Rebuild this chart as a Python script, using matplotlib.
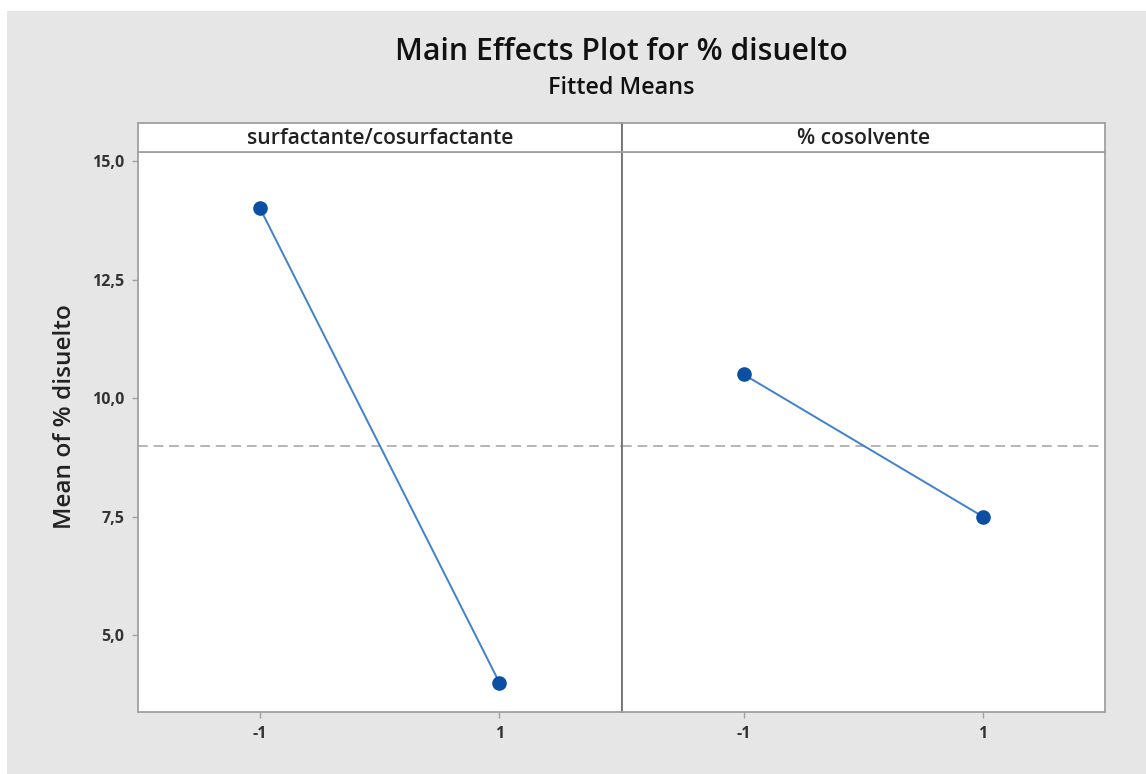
import matplotlib
matplotlib.use("Agg")
import matplotlib.pyplot as plt
from matplotlib.patches import Rectangle
from matplotlib.ticker import FuncFormatter

plt.rcParams['font.family'] = ['Open Sans', 'DejaVu Sans']

factors = ['surfactante/cosurfactante', '% cosolvente']
levels = [-1, 1]
level_labels = ['-1', '1']
means = [[14.0, 4.0], [10.5, 7.5]]
grand_mean = 9.0
yticks = [5.0, 7.5, 10.0, 12.5, 15.0]

W, H = 1146, 774
fig = plt.figure(figsize=(W/100, H/100), dpi=100)
fig.patch.set_facecolor('white')
# grey backdrop (white margin on top/left like the screenshot)
fig.patches.append(Rectangle((7/W, 0), 1, 1-11/H, transform=fig.transFigure,
                             facecolor='#e6e6e6', edgecolor='none', zorder=-10))

left, right = 138/W, 1105/W
bottom, top = 1-712/H, 1-152/H
strip_top = 1-123/H
pw = (right-left)/2
framec = '#a0a0a0'
linec = '#4080cc'
dotc = '#0a4fa3'

ax = []
for i in range(2):
    a = fig.add_axes([left+i*pw, bottom, pw, top-bottom])
    a.set_facecolor('white')
    a.plot(levels, means[i], color=linec, lw=1.4, zorder=2)
    a.plot(levels, means[i], 'o', color=dotc, ms=9.5, zorder=3)
    a.axhline(grand_mean, color='#b4b4b4', lw=1.4, ls=(0, (5, 3)), zorder=1)
    a.set_xlim(-2.02, 2.02)
    a.set_ylim(3.38, 15.19)
    a.set_xticks(levels)
    a.set_xticklabels(level_labels, fontsize=11.5, fontweight='bold', color='#333333')
    a.set_yticks(yticks)
    a.yaxis.set_major_formatter(FuncFormatter(lambda v, p: ('%.1f' % v).replace('.', ',')))
    a.tick_params(colors=framec, labelcolor='#333333', length=4, width=1, labelsize=11.5, pad=6)
    for s in a.spines.values():
        s.set_color(framec)
        s.set_linewidth(1.3)
    if i == 1:
        a.tick_params(axis='y', left=False, labelleft=False)
        a.spines['left'].set_color('#707070')
    ax.append(a)
    # strip header
    st = fig.add_axes([left+i*pw, top, pw, strip_top-top])
    st.set_facecolor('white')
    st.set_xticks([]); st.set_yticks([])
    for s in st.spines.values():
        s.set_color(framec)
        s.set_linewidth(1.3)
    if i == 1:
        st.spines['left'].set_color('#707070')
    st.text(0.5, 0.45, factors[i], ha='center', va='center', fontsize=15.2,
            fontweight='semibold', color='#222222')

for t in ax[0].get_yticklabels():
    t.set_fontweight('bold')

fig.text((left+right)/2, 1-52/H, 'Main Effects Plot for % disuelto', ha='center', va='center',
         fontsize=21.7, fontweight='semibold', color='#111111')
fig.text((left+right)/2, 1-88/H, 'Fitted Means', ha='center', va='center',
         fontsize=16.8, fontweight='semibold', color='#111111')
fig.text(65/W, 1-417/H, 'Mean of % disuelto', ha='center', va='center', rotation=90,
         fontsize=17.6, fontweight='semibold', color='#222222')

fig.savefig('out.png', dpi=100)
